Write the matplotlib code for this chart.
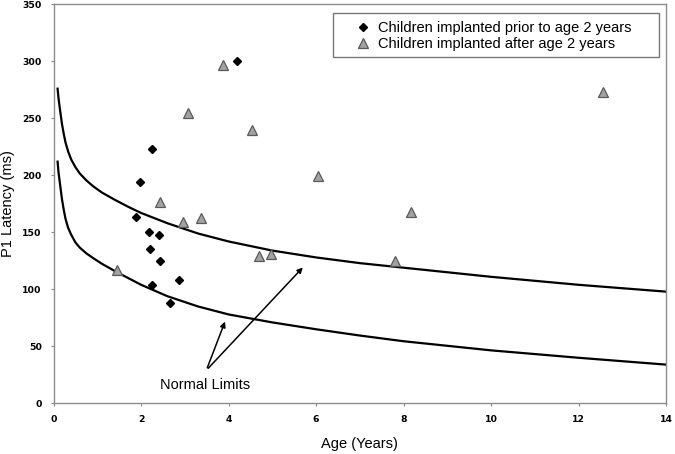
import matplotlib
matplotlib.use("Agg")
import matplotlib.pyplot as plt
from matplotlib.patches import Rectangle

# Children implanted prior to age 2 years
early_age = [4.19, 2.25, 1.97, 1.89, 2.17, 2.40, 2.21, 2.44, 2.25, 2.87, 2.67]
early_p1 = [300, 223, 194, 163.5, 150, 148, 135.5, 125, 104, 108, 88]

# Children implanted after age 2 years
late_age = [3.87, 3.08, 4.54, 6.05, 2.42, 2.95, 3.36, 4.70, 4.96, 1.44, 8.18, 7.80, 12.56]
late_p1 = [297, 255, 240, 199.5, 177, 159, 163, 129, 131, 117, 168, 124.5, 273]

# Normal limits (upper / lower)
curve_age = [0.09, 0.11, 0.14, 0.165, 0.19, 0.23, 0.27, 0.33, 0.4, 0.5, 0.6, 0.75, 0.9, 1.1,
             1.4, 1.7, 2.0, 2.6, 3.3, 4.0, 5.0, 6.0, 7.0, 8.0, 10.0, 12.0, 14.0]
upper_limit = [276, 268, 259, 252, 245, 236.5, 229, 221, 214, 207, 201.5, 195.5, 190.5, 185,
               178.5, 172.5, 167, 158, 149, 142, 134, 128, 123, 119, 111, 104, 98]
lower_limit = [212, 203, 194, 186.5, 179, 170, 162, 154, 148, 141, 136.5, 131.5, 127.5, 122.5,
               116, 110, 104, 94, 85, 78, 71, 65, 59.5, 54.5, 46.5, 40, 34]

x_ticks = [0, 2, 4, 6, 8, 10, 12, 14]
y_ticks = [0, 50, 100, 150, 200, 250, 300, 350]

fig = plt.figure(figsize=(6.75, 4.54), dpi=100)
ax = fig.add_axes([0.0795, 0.1115, 0.9072, 0.879])

ax.plot(curve_age, upper_limit, color="black", lw=1.6, zorder=2)
ax.plot(curve_age, lower_limit, color="black", lw=1.6, zorder=2)

ax.plot(early_age, early_p1, linestyle="none", marker="D", ms=4.3,
        color="black", label="Children implanted prior to age 2 years", zorder=3)
ax.plot(late_age, late_p1, linestyle="none", marker="^", ms=7,
        markerfacecolor="#a2a2a2", markeredgecolor="#5a5a5a", markeredgewidth=0.9,
        label="Children implanted after age 2 years", zorder=3)

ax.set_xlim(0, 14)
ax.set_ylim(0, 350)
ax.set_xticks(x_ticks)
ax.set_yticks(y_ticks)
ax.set_xticklabels([str(v) for v in x_ticks], fontsize=6.7, fontweight="bold", family="DejaVu Sans")
ax.set_yticklabels([str(v) for v in y_ticks], fontsize=6.7, fontweight="bold", family="DejaVu Sans")
ax.tick_params(axis="both", direction="out", length=2.5, width=0.8, color="#888888", pad=6)

for s in ax.spines.values():
    s.set_color("#8c8c8c")
    s.set_linewidth(1.0)

ax.set_xlabel("Age (Years)", fontsize=10.5, family="Liberation Sans", labelpad=9)
ax.set_ylabel("P1 Latency (ms)", fontsize=10.5, family="Liberation Sans", labelpad=5)

# Annotation arrows
ax.annotate("", xy=(3.94, 74), xytext=(3.49, 29),
            arrowprops=dict(arrowstyle="-|>", color="black", lw=1.1, mutation_scale=8))
ax.annotate("", xy=(5.74, 121), xytext=(3.49, 29),
            arrowprops=dict(arrowstyle="-|>", color="black", lw=1.1, mutation_scale=8))
ax.text(3.47, 16, "Normal Limits", ha="center", va="center", fontsize=10.5, family="Liberation Sans")

# Legend (frame drawn separately so it can be wider than its content)
ax.add_patch(Rectangle((0.456, 0.8687), 0.9884 - 0.456, 0.977 - 0.8687, transform=ax.transAxes,
                       facecolor="white", edgecolor="#777777", lw=1.0, zorder=4))
leg = ax.legend(loc="center left", bbox_to_anchor=(0.4936, 0.9206),
                prop={"family": "Liberation Sans", "size": 10.5},
                frameon=False, handlelength=1.0, handletextpad=0.5,
                borderpad=0.0, labelspacing=0.14, borderaxespad=0.0)
leg.set_zorder(5)

fig.savefig("out.png", dpi=100)
